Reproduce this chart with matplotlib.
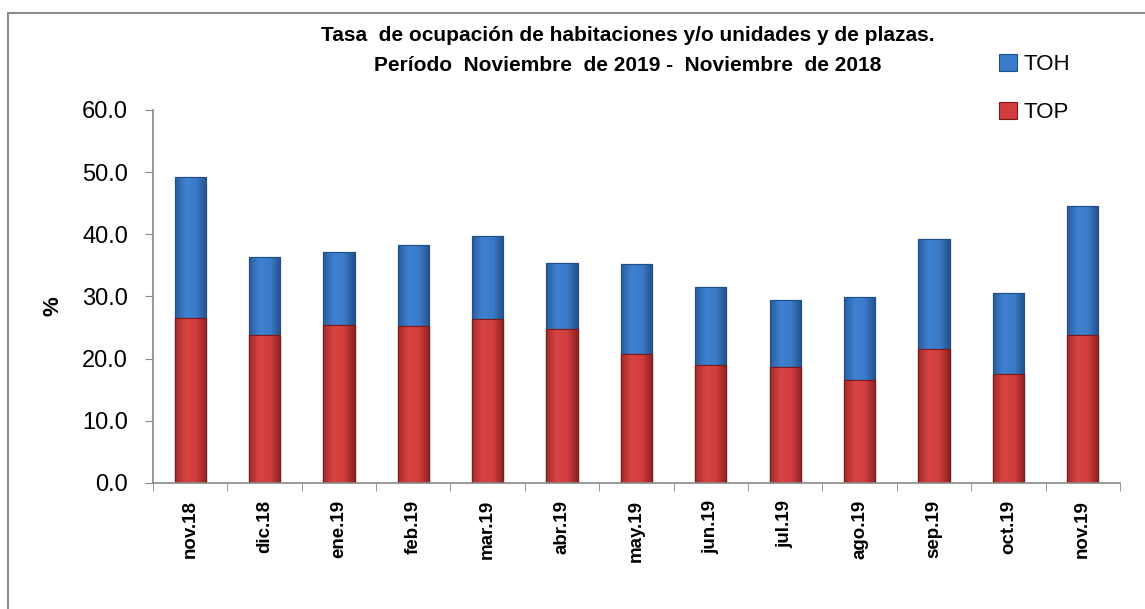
import numpy as np
import matplotlib.pyplot as plt
from matplotlib.patches import Rectangle
from matplotlib.colors import LinearSegmentedColormap
from matplotlib.ticker import FixedLocator

meses = ['nov.18', 'dic.18', 'ene.19', 'feb.19', 'mar.19', 'abr.19', 'may.19',
         'jun.19', 'jul.19', 'ago.19', 'sep.19', 'oct.19', 'nov.19']
toh = [49.3, 36.4, 37.1, 38.3, 39.8, 35.4, 35.3, 31.6, 29.5, 29.9, 39.3, 30.6, 44.6]
top = [26.6, 23.8, 25.4, 25.2, 26.4, 24.8, 20.8, 19.0, 18.6, 16.6, 21.5, 17.6, 23.8]

fam = ['Liberation Sans', 'DejaVu Sans']
plt.rcParams['font.family'] = fam

fig = plt.figure(figsize=(11.45, 6.09), dpi=100)
ax = fig.add_axes([0.1336, 0.2069, 0.8445, 0.6125])

x = np.arange(len(meses))
b1 = ax.bar(x, toh, width=0.42, color='#3b7cca', edgecolor='#1f4f86', linewidth=0.8, label='TOH')
b2 = ax.bar(x, top, width=0.42, color='#d43d3d', edgecolor='#7c1a1a', linewidth=0.8, label='TOP')

# shading across each bar, like the 3D look of the original
cm_blue = LinearSegmentedColormap.from_list('b', ['#2a5c9c', '#3f82d2', '#3a7bc8', '#24508a'])
cm_red = LinearSegmentedColormap.from_list('r', ['#a62b2b', '#d84444', '#d13d3d', '#8e2222'])
grad = np.linspace(0, 1, 64).reshape(1, -1)
for bars, cm, z in [(b1, cm_blue, 2.1), (b2, cm_red, 2.3)]:
    for p in bars:
        bx, by = p.get_x(), p.get_y()
        bw, bh = p.get_width(), p.get_height()
        im = ax.imshow(grad, cmap=cm, aspect='auto', extent=[bx, bx + bw, by, by + bh],
                       zorder=z, interpolation='bicubic')
        im.set_clip_path(p)
        p.set_zorder(z - 0.05)
    for p in bars:
        ax.add_patch(Rectangle((p.get_x(), p.get_y()), p.get_width(), p.get_height(),
                               fill=False, edgecolor=p.get_edgecolor(), linewidth=0.8, zorder=z + 0.1))

ax.set_xlim(-0.5, len(meses) - 0.5)
ax.set_ylim(0, 60)
ax.set_yticks(np.arange(0, 61, 10))
ax.set_yticklabels(['%.1f' % v for v in np.arange(0, 61, 10)], fontsize=17)
ax.set_xticks(x)
ax.set_xticklabels(meses, rotation=90, fontsize=13.5, fontweight='bold')
ax.xaxis.set_minor_locator(FixedLocator(np.arange(-0.5, len(meses), 1)))
ax.tick_params(axis='x', which='major', length=0, pad=12)
ax.tick_params(axis='x', which='minor', length=6, color='#888888')
ax.tick_params(axis='y', length=6, color='#888888', pad=12)

for s in ['top', 'right']:
    ax.spines[s].set_visible(False)
for s in ['left', 'bottom']:
    ax.spines[s].set_color('#888888')
    ax.spines[s].set_linewidth(1.2)
    ax.spines[s].set_zorder(5)

ax.set_ylabel('%', fontsize=16, fontweight='bold')
ax.yaxis.set_label_coords(-0.093, 0.475)

fig.text(0.548, 0.941, 'Tasa  de ocupación de habitaciones y/o unidades y de plazas.',
         ha='center', va='center', fontsize=15, fontweight='bold')
fig.text(0.548, 0.892, 'Período  Noviembre  de 2019 -  Noviembre  de 2018',
         ha='center', va='center', fontsize=15, fontweight='bold')

fig.legend(handles=[b1, b2], loc='upper left', bbox_to_anchor=(0.855, 0.944), frameon=False,
           handlelength=0.8, handleheight=0.8, handletextpad=0.3,
           labelspacing=1.2, prop={'family': fam, 'size': 16})

fig.patches.append(Rectangle((0.007, -0.1), 1.1, 1.078, transform=fig.transFigure,
                             fill=False, edgecolor='#8c8c8c', linewidth=1.5))

fig.savefig('out.png', dpi=100)
